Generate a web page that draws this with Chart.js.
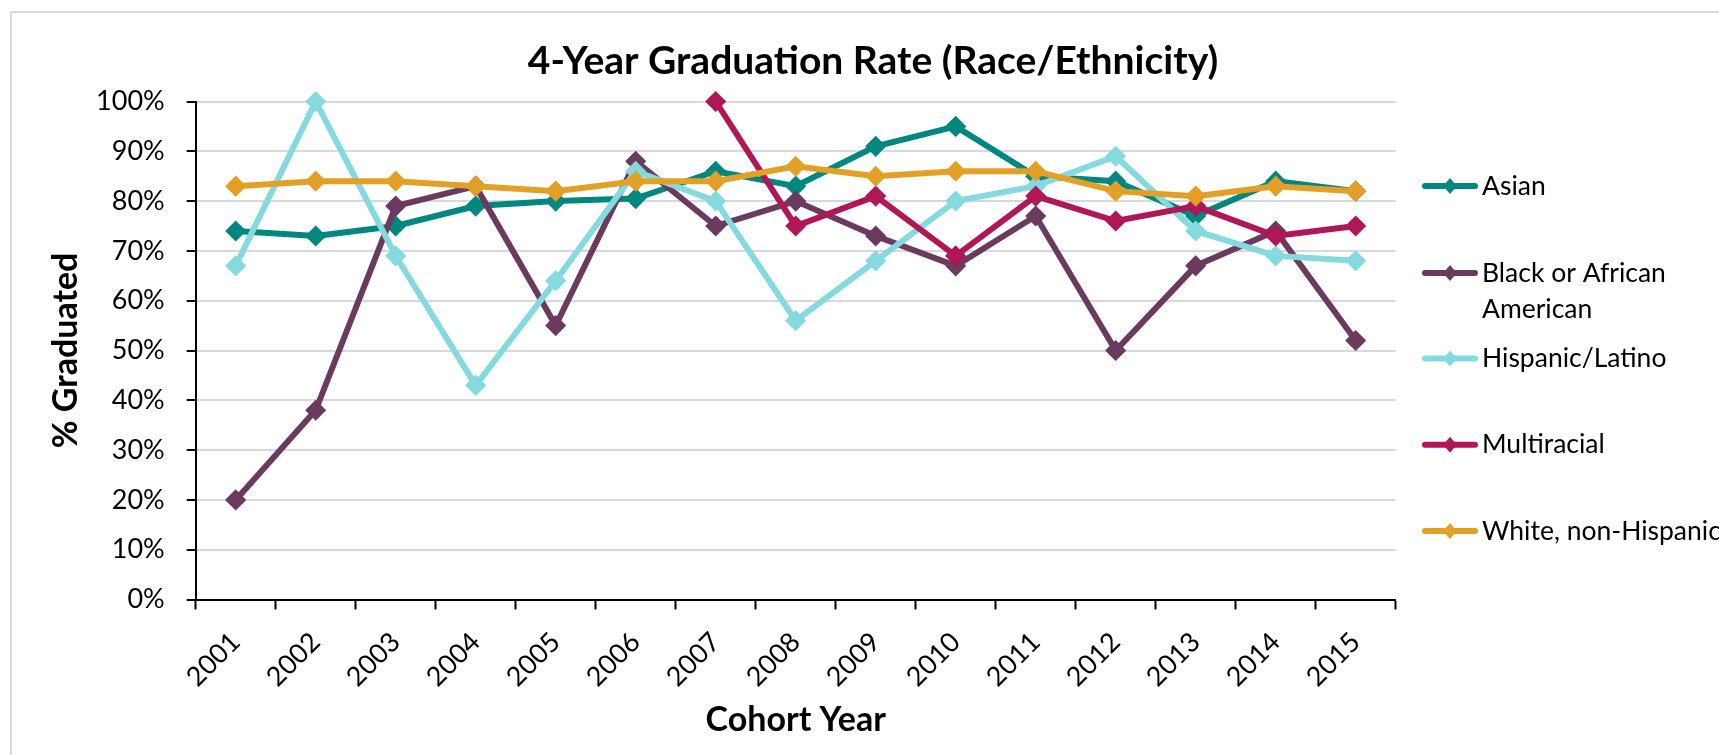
<!DOCTYPE html>
<html>
<head>
<meta charset="utf-8">
<script src="https://cdn.jsdelivr.net/npm/chart.js@4.4.1/dist/chart.umd.min.js"></script>
<style>
html,body{margin:0;padding:0;background:#fff;overflow:hidden;width:1719px;height:755px;}
#frame{position:absolute;left:10px;top:11px;width:1800px;height:800px;border:2px solid #d9d9d9;box-sizing:border-box;}
#c{position:absolute;left:0;top:0;}
</style>
</head>
<body>
<div id="frame"></div>
<canvas id="c" width="1746" height="755"></canvas>
<script>
// ---- data ----
const categories = ['2001','2002','2003','2004','2005','2006','2007','2008','2009','2010','2011','2012','2013','2014','2015'];
const asian       = [74, 73, 75, 79, 80, 80.5, 86, 83, 91, 95, 85, 84, 77, 84, 82];
const black       = [20, 38, 79, 83, 55, 88, 75, 80, 73, 67, 77, 50, 67, 74, 52];
const hispanic    = [67, 100, 69, 43, 64, 86, 80, 56, 68, 80, 83, 89, 74, 69, 68];
const multiracial = [null, null, null, null, null, null, 100, 75, 81, 69, 81, 76, 79, 73, 75];
const white       = [83, 84, 84, 83, 82, 84, 84, 87, 85, 86, 86, 82, 81, 83, 82];
const seriesNames = ['Asian', 'Black or African American', 'Hispanic/Latino', 'Multiracial', 'White, non-Hispanic'];
const legendLines = [['Asian'], ['Black or African', 'American'], ['Hispanic/Latino'], ['Multiracial'], ['White, non-Hispanic']];
const yTickValues = [0, 10, 20, 30, 40, 50, 60, 70, 80, 90, 100];
const chartTitle = '4-Year Graduation Rate (Race/Ethnicity)';
const xTitle = 'Cohort Year';
const yTitle = '% Graduated';

// ---- style ----
const colors = ['#00877F', '#6B3A5F', '#84DADF', '#B11657', '#E3A026'];
const FONT = 'Lato';
Chart.defaults.font.family = FONT;
Chart.defaults.color = '#000';

const seriesData = [asian, black, hispanic, multiracial, white];
const datasets = seriesData.map((d, i) => ({
  label: seriesNames[i],
  data: d,
  borderColor: colors[i],
  backgroundColor: colors[i],
  pointBackgroundColor: colors[i],
  pointBorderColor: colors[i],
  borderWidth: 6,
  pointStyle: 'rectRot',
  pointRadius: 9.5,
  pointBorderWidth: 1.5,
  tension: 0,
  clip: false,
  order: seriesData.length - 1 - i
}));

const LEGEND_Y = [186, 273, 358.6, 444.8, 531];
const sideLegend = {
  id: 'sideLegend',
  afterDraw(chart) {
    const ctx = chart.ctx;
    ctx.save();
    chart.data.datasets.forEach((ds, i) => {
      const y = LEGEND_Y[i];
      ctx.strokeStyle = ds.borderColor;
      ctx.lineWidth = 6;
      ctx.lineCap = 'round';
      ctx.beginPath();
      ctx.moveTo(1425, y);
      ctx.lineTo(1475, y);
      ctx.stroke();
      ctx.fillStyle = ds.borderColor;
      const r = 8;
      ctx.beginPath();
      ctx.moveTo(1450, y - r);
      ctx.lineTo(1450 + r * 0.85, y);
      ctx.lineTo(1450, y + r);
      ctx.lineTo(1450 - r * 0.85, y);
      ctx.closePath();
      ctx.fill();
      ctx.fillStyle = '#000';
      ctx.font = '26.5px ' + FONT;
      ctx.textBaseline = 'middle';
      ctx.textAlign = 'left';
      legendLines[i].forEach((t, k) => ctx.fillText(t, 1482, y + k * 36));
    });
    ctx.restore();
  }
};

new Chart(document.getElementById('c'), {
  type: 'line',
  data: { labels: categories, datasets },
  plugins: [sideLegend],
  options: {
    responsive: false,
    animation: false,
    devicePixelRatio: 1,
    layout: { padding: 0 },
    plugins: {
      legend: { display: false },
      tooltip: { enabled: false },
      title: {
        display: true,
        text: chartTitle,
        font: { family: FONT, size: 39, weight: 'bold', lineHeight: 1.2 },
        color: '#000',
        padding: { top: 37.6, bottom: 17.1 }
      }
    },
    scales: {
      x: {
        type: 'category',
        offset: true,
        grid: { display: true, drawOnChartArea: false, drawTicks: true, tickLength: 10, tickColor: '#000', tickWidth: 2, offset: true },
        border: { display: true, color: '#000', width: 2 },
        ticks: { autoSkip: false, minRotation: 45, maxRotation: 45, padding: 28, color: '#000', font: { family: FONT, size: 27, lineHeight: 0 } },
        title: { display: true, text: xTitle, color: '#000', font: { family: FONT, size: 34, weight: 'bold', lineHeight: 1.2 }, padding: { top: 0, bottom: 14.6 } },
        afterFit(s) { s.height = 155.5; }
      },
      y: {
        min: 0,
        max: 100,
        afterBuildTicks(s) { s.ticks = yTickValues.map(v => ({ value: v })); },
        ticks: { callback: v => v + '%', padding: 22, color: '#000', font: { family: FONT, size: 27 } },
        grid: { color: '#d9d9d9', lineWidth: 2, tickColor: '#000', tickLength: 9, tickWidth: 2 },
        border: { display: true, color: '#000', width: 2 },
        title: { display: true, text: yTitle, color: '#000', font: { family: FONT, size: 34, weight: 'bold', lineHeight: 1.2 }, padding: { top: 45.6, bottom: 0 } },
        afterFit(s) { s.width = 195.7; }
      },
      spacer: {
        type: 'linear',
        position: 'right',
        display: true,
        grid: { display: false, drawOnChartArea: false, drawTicks: false },
        border: { display: false },
        ticks: { display: false },
        afterFit(s) { s.width = 1746 - 1395.7; }
      }
    }
  }
});
</script>
</body>
</html>
